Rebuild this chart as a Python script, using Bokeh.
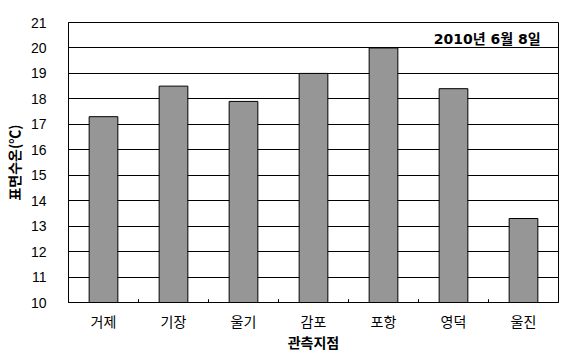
from bokeh.plotting import figure
from bokeh.models import FactorRange, Range1d, Label, ColumnDataSource, FixedTicker
from bokeh.embed import file_html
from bokeh.resources import INLINE

stations = ["거제", "기장", "울기", "감포", "포항", "영덕", "울진"]
temps = [17.3, 18.5, 17.9, 19.0, 20.0, 18.4, 13.3]
y_ticks = list(range(10, 22))
note = "2010년 6월 8일"
x_title = "관측지점"
y_title = "표면수온(℃)"

FONT = "Liberation Sans, Noto Sans CJK KR"
FONT_B = "DejaVu Sans, Noto Sans CJK KR"

p = figure(width=567, height=363, x_range=FactorRange(*stations, range_padding=0),
           y_range=Range1d(10, 21), output_backend="svg", toolbar_location=None,
           min_border_left=62, min_border_right=9, min_border_top=22, min_border_bottom=61)
p.background_fill_color = "white"
p.border_fill_color = "white"
p.outline_line_color = "black"
p.outline_line_width = 1

src = ColumnDataSource(dict(x=stations, top=temps))
p.vbar(x="x", top="top", bottom=10, width=0.41, source=src,
       fill_color="#969696", line_color="black", line_width=1)

# boundary ticks between categories
bounds = list(range(1, len(stations)))
p.segment(x0=bounds, x1=bounds, y0=[10] * len(bounds), y1=[10.13] * len(bounds),
          line_color="black", line_width=1)

p.xgrid.grid_line_color = None
p.ygrid.grid_line_color = "black"
p.ygrid.grid_line_width = 1
p.ygrid.level = "underlay"

p.yaxis.ticker = FixedTicker(ticks=y_ticks)
p.yaxis.major_tick_line_color = None
p.yaxis.minor_tick_line_color = None
p.yaxis.axis_line_color = "black"
p.yaxis.major_label_standoff = 16
p.yaxis.major_label_text_font = FONT
p.yaxis.major_label_text_font_size = "14px"
p.yaxis.major_label_text_color = "black"
p.yaxis.axis_label = y_title
p.yaxis.axis_label_text_font = "Noto Sans CJK KR"
p.yaxis.axis_label_text_font_style = "bold"
p.yaxis.axis_label_text_font_size = "14px"
p.yaxis.axis_label_text_color = "black"
p.yaxis.axis_label_standoff = 4

p.xaxis.major_tick_line_color = None
p.xaxis.axis_line_color = "black"
p.xaxis.major_label_standoff = 5
p.xaxis.major_label_text_font = FONT
p.xaxis.major_label_text_font_size = "14px"
p.xaxis.major_label_text_color = "black"
p.xaxis.axis_label = x_title
p.xaxis.axis_label_text_font = FONT_B
p.xaxis.axis_label_text_font_style = "bold"
p.xaxis.axis_label_text_font_size = "14px"
p.xaxis.axis_label_text_color = "black"
p.xaxis.axis_label_standoff = 2

p.add_layout(Label(x=6.745, y=20.37, text=note, text_align="right", text_baseline="middle",
                   text_font=FONT_B, text_font_style="bold", text_font_size="14px",
                   text_color="black"))

open("out.html", "w").write(file_html(p, INLINE))
